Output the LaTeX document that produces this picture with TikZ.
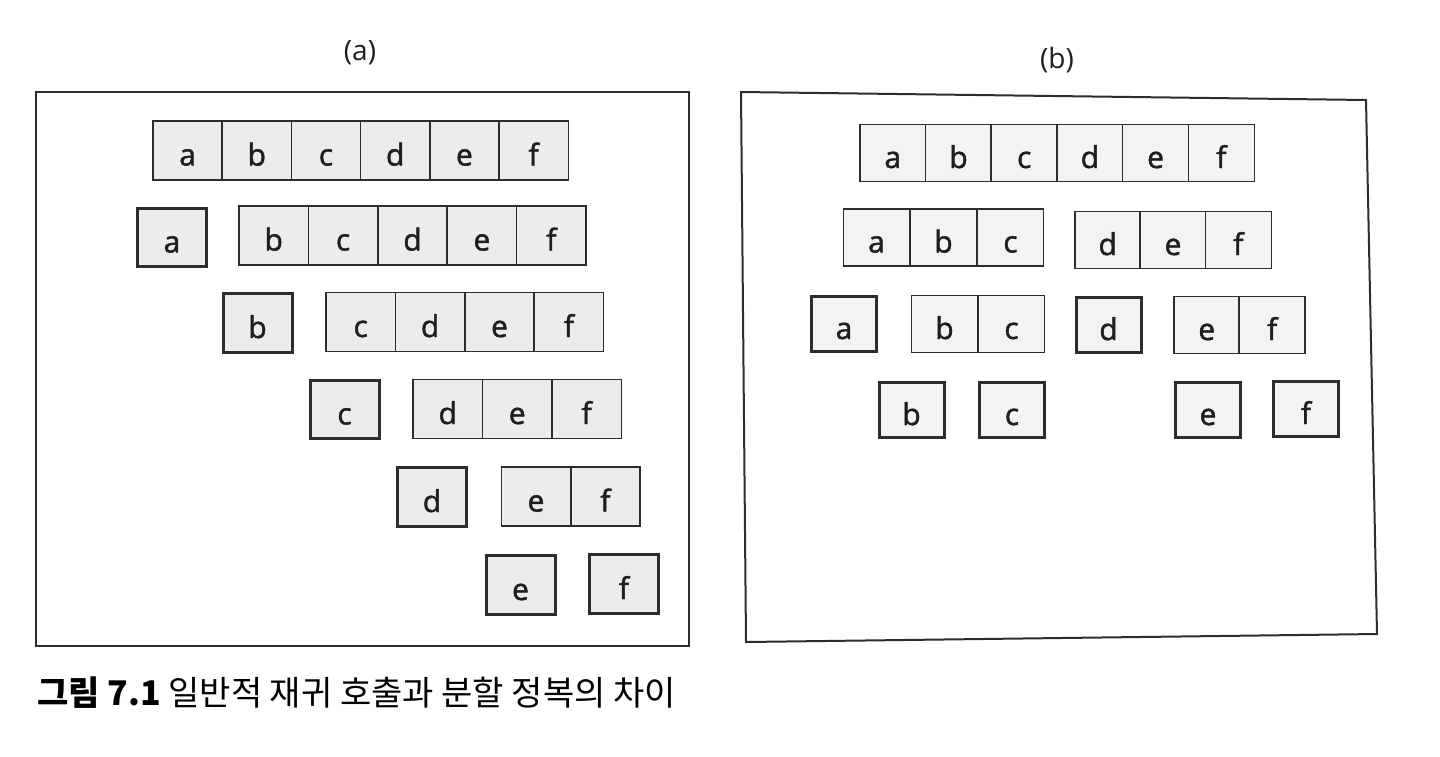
\documentclass[tikz,border=0pt]{standalone}
\usepackage{fontspec}
\setmainfont{Open Sans}
\newfontfamily\cellfont{Open Sans}[FakeBold=1.5]
\newfontfamily\krfont{Noto Sans CJK KR}
\usepackage{tikz}
\usetikzlibrary{positioning}
\definecolor{linecolor}{RGB}{45, 45, 45}
\definecolor{textcolor}{RGB}{30, 30, 30}
\definecolor{cellafill}{RGB}{236, 236, 236}
\definecolor{cellbfill}{RGB}{243, 243, 243}

\begin{document}
\begin{tikzpicture}[
        x=1pt, y=-1pt,
        cell/.style={rectangle, draw=linecolor, line width=1.6pt, inner sep=0pt, outer sep=0pt,
            text=textcolor, text height=30pt, text depth=0pt, font=\cellfont\fontsize{30}{36}\selectfont},
        cella/.style={cell, fill=cellafill, minimum width=69.4pt, minimum height=59pt},
        singlea/.style={cell, fill=cellafill, line width=3pt, minimum width=69pt, minimum height=58.5pt},
        cellb/.style={cell, fill=cellbfill, minimum width=66pt, minimum height=57pt},
        singleb/.style={cell, fill=cellbfill, line width=3pt, minimum width=65pt, minimum height=55.5pt},
        frame/.style={draw=linecolor, line width=2pt},
        panellabel/.style={text=textcolor, inner sep=0pt, font=\fontsize{28}{34}\selectfont}
    ]
        \useasboundingbox (0,0) rectangle (1440,756);

        % Panel (a): plain recursion
        \node[panellabel] (laba) at (360,53) {(a)};
        \draw[frame] (36,92) rectangle (689,646);

        \foreach \l [count=\i from 0] in {a,b,c,d,e,f}
            \node[cella] (A1\l) at (187.6+69.2*\i,150.5) {\l};

        \node[singlea] (A2a) at (172,237.5) {a};
        \foreach \l [count=\i from 0] in {b,c,d,e,f}
            \node[cella] (A2\l) at (273.7+69.4*\i,235.5) {\l};

        \node[singlea] (A3b) at (257.5,323) {b};
        \foreach \l [count=\i from 0] in {c,d,e,f}
            \node[cella] (A3\l) at (360.7+69.4*\i,322) {\l};

        \node[singlea] (A4c) at (344.5,409.5) {c};
        \foreach \l [count=\i from 0] in {d,e,f}
            \node[cella] (A4\l) at (447.8+69.4*\i,409) {\l};

        \node[singlea] (A5d) at (432,497) {d};
        \foreach \l [count=\i from 0] in {e,f}
            \node[cella] (A5\l) at (536+69.4*\i,496.5) {\l};

        \node[singlea] (A6e) at (520.5,585) {e};
        \node[singlea] (A6f) at (624,584) {f};

        % Panel (b): divide and conquer
        \node[panellabel] (labb) at (1057,60) {(b)};
        \draw[frame] (741,92) -- (1366,100) -- (1377,634) -- (746,642) -- cycle;

        \foreach \l [count=\i from 0] in {a,b,c,d,e,f}
            \node[cellb] (B1\l) at (892.8+65.7*\i,153) {\l};

        \foreach \l [count=\i from 0] in {a,b,c}
            \node[cellb] (B2\l) at (876.5+67*\i,237.5) {\l};
        \foreach \l [count=\i from 0] in {d,e,f}
            \node[cellb] (B2\l) at (1107.7+65.3*\i,240) {\l};

        \node[singleb] (B3a) at (844,324) {a};
        \foreach \l [count=\i from 0] in {b,c}
            \node[cellb] (B3\l) at (944.5+67*\i,324) {\l};
        \node[singleb] (B3d) at (1108.5,325) {d};
        \foreach \l [count=\i from 0] in {e,f}
            \node[cellb] (B3\l) at (1206.7+65.5*\i,325) {\l};

        \node[singleb] (B4b) at (911.5,410) {b};
        \node[singleb] (B4c) at (1012,410) {c};
        \node[singleb] (B4e) at (1208,410) {e};
        \node[singleb] (B4f) at (1306,409) {f};

        % Caption
        \node[anchor=base west, inner sep=0pt, text=black, font=\krfont\fontsize{34}{40}\selectfont]
            (caption) at (37,705) {\textbf{그림 7.1} 일반적 재귀 호출과 분할 정복의 차이};

    \end{tikzpicture}
\end{document}
